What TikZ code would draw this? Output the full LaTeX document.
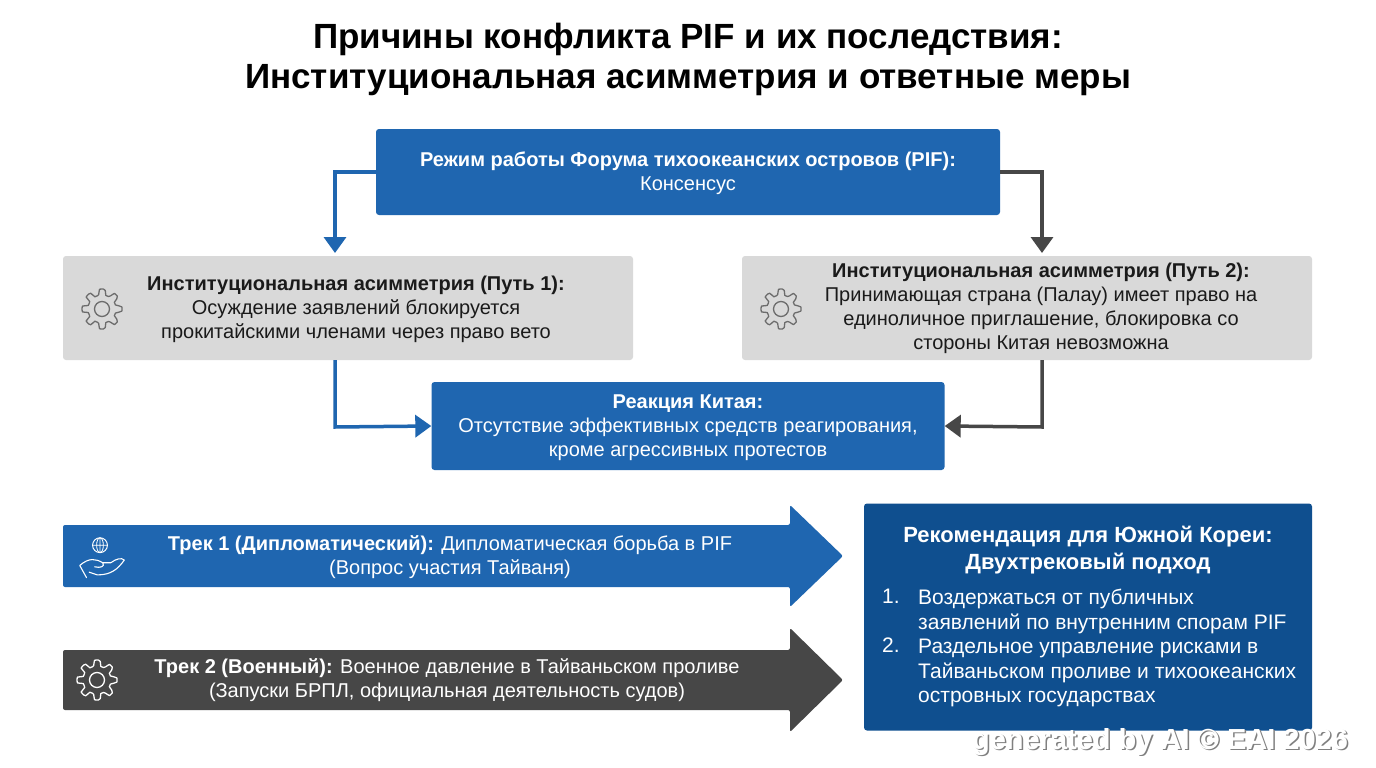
\documentclass[tikz,border=0pt]{standalone}
\usepackage{fontspec}
\setmainfont{Liberation Sans}
\usetikzlibrary{arrows.meta,shapes.arrows}
\definecolor{blu}{HTML}{1F66B0}
\definecolor{dblu}{HTML}{0F4F8F}
\definecolor{gry}{HTML}{D9D9D9}
\definecolor{dgr}{HTML}{474747}
\definecolor{txt}{HTML}{1A1A1A}
\newcommand{\fs}[2]{\fontsize{#1}{#2}\selectfont}
\tikzset{
 bx/.style={rounded corners=3pt,inner sep=0pt,align=center},
 lab/.style={font=\fs{20}{24},align=center},
 conn/.style={line width=3.5pt,-{Triangle[length=16pt,width=22pt]}},
 gear/.style={line width=1.3pt,draw=#1},
}
\newcommand{\gearicon}[3]{%
 \draw[gear=#3,line join=round] plot[smooth cycle,samples=64,domain=0:360,variable=\t] ({#1+(17+3*tanh(4*cos(8*\t)))*cos(\t)},{#2+(17+3*tanh(4*cos(8*\t)))*sin(\t)});
 \draw[gear=#3] (#1,#2) circle (7.5);}
\begin{document}
\begin{tikzpicture}[x=1pt,y=-1pt]
\useasboundingbox (0,0) rectangle (1376,768);
\fill[white] (0,0) rectangle (1376,768);
\node[font=\fs{35}{40}\bfseries,text=black,align=center] (title) at (688,59) {Причины конфликта PIF и их последствия:\\Институциональная асимметрия и ответные меры};

\node[bx,fill=blu,text=white,minimum width=624,minimum height=86] (top) at (688,172) {};
\node[lab,text=white] at (688,173) {\textbf{Режим работы Форума тихоокеанских островов (PIF):}\\Консенсус};
\node[bx,fill=gry,minimum width=570,minimum height=104] (g1) at (348,308) {};
\node[lab,text=txt] at (356,309) {\textbf{Институциональная асимметрия (Путь 1):}\\Осуждение заявлений блокируется\\прокитайскими членами через право вето};
\node[bx,fill=gry,minimum width=570,minimum height=104] (g2) at (1027,308) {};
\node[lab,text=txt] at (1041,308) {\textbf{Институциональная асимметрия (Путь 2):}\\Принимающая страна (Палау) имеет право на\\единоличное приглашение, блокировка со\\стороны Китая невозможна};
\gearicon{102}{309}{dgr!80}
\gearicon{781}{309}{dgr!80}

\node[bx,fill=blu,minimum width=513,minimum height=88] (cn) at (688,426) {};
\node[lab,text=white] at (688,428) {\textbf{Реакция Китая:}\\Отсутствие эффективных средств реагирования,\\кроме агрессивных протестов};

\coordinate (tl) at (335,172); \coordinate (tr) at (1042,172);
\draw[conn,blu] (top.west) -- (tl) -- (335,253);
\draw[conn,dgr] (top.east) -- (tr) -- (1042,253);
\draw[conn,blu] (335,360) -- (335,427) -- (cn.west);
\draw[conn,dgr] (1042,360) -- (1042,427) -- (cn.east);

% tracks
\fill[blu,rounded corners=2pt] (63,525) -- (790,525) -- (790,505) -- (843,556) -- (790,607) -- (790,587) -- (63,587) -- cycle;
\node[lab,text=white] (t1) at (450,557) {\textbf{Трек 1 (Дипломатический):} Дипломатическая борьба в PIF\\(Вопрос участия Тайваня)};
\fill[dgr,rounded corners=2pt] (63,650) -- (790,650) -- (790,628) -- (843,680) -- (790,732) -- (790,710) -- (63,710) -- cycle;
\node[lab,text=white] (t2) at (447,680) {\textbf{Трек 2 (Военный):} Военное давление в Тайваньском проливе\\(Запуски БРПЛ, официальная деятельность судов)};
\gearicon{97}{680}{white}
% globe hand
\begin{scope}[shift={(100,556)},scale=1.35,shift={(-100,-556)}]
\draw[white,line width=1pt] (100,548) circle (5.5);
\draw[white,line width=0.8pt] (94.5,548) -- (105.5,548) (100,542.5) -- (100,553.5) (100,548) ellipse (2.5 and 5.5);
\draw[white,line width=1.1pt,line join=round,line cap=round] (85,563) .. controls (92,557) and (97,558) .. (102,561) -- (108,561) .. controls (112,558) and (116,557) .. (118,559) .. controls (113,566) and (108,570) .. (98,570) -- (92,568) (102,561) .. controls (104,564) and (100,565) .. (96,564) (85,563) -- (90,572);
\end{scope}

% recommendation
\node[bx,fill=dblu,minimum width=448,minimum height=227] (rec) at (1088,617) {};
\node[font=\fs{22}{27}\bfseries,text=white,align=center] at (1088,550) {Рекомендация для Южной Кореи:\\Двухтрековый подход};
\node[font=\fs{21}{24.5},text=white,anchor=north west,align=left,inner sep=0] at (882,589) {1.\\\\2.};
\node[font=\fs{21}{24.5},text=white,anchor=north west,align=left,inner sep=0] at (918,589) {Воздержаться от публичных\\заявлений по внутренним спорам PIF\\Раздельное управление рисками в\\Тайваньском проливе и тихоокеанских\\островных государствах};

\node[font=\fs{29}{30}\bfseries,text=gray] at (1161.5,743.5) {generated by AI © EAI 2026};
\node[font=\fs{29}{30}\bfseries,text=white] (wm) at (1160,742) {generated by AI © EAI 2026};
\end{tikzpicture}
\end{document}
